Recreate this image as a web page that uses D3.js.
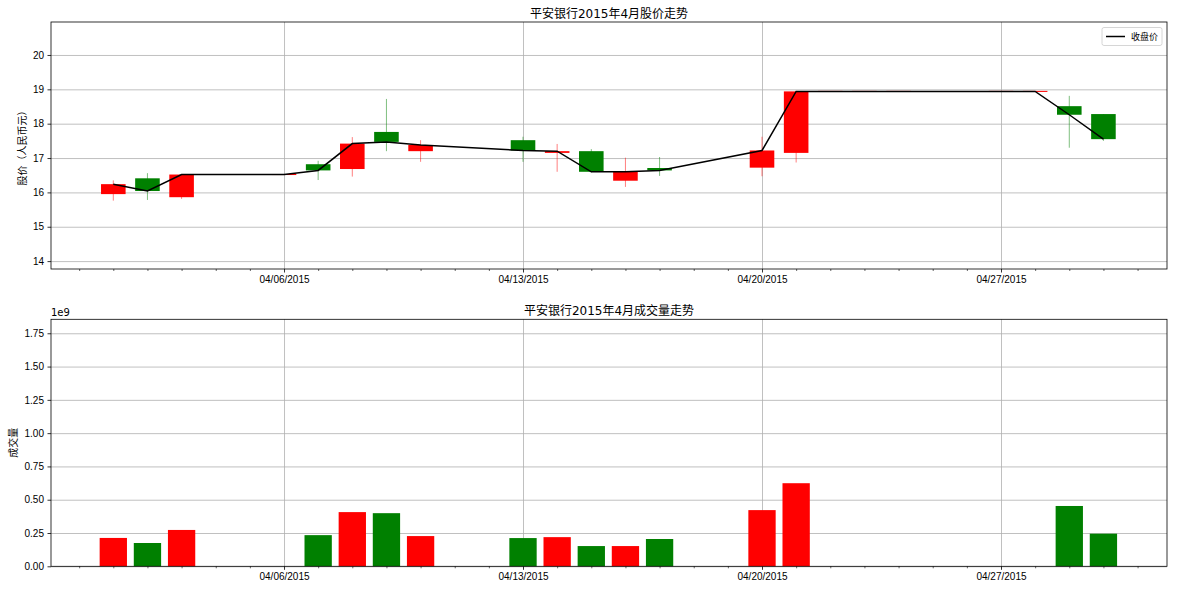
<!DOCTYPE html>
<html>
<head>
<meta charset="utf-8">
<script src="https://cdn.jsdelivr.net/npm/d3@7"></script>
<style>
  body { margin: 0; background: #fff; }
  svg { font-family: "DejaVu Sans", "Noto Sans CJK SC", sans-serif; }
  .tick text { font-size: 10px; fill: #000; }
  .grid line { stroke: #b0b0b0; stroke-width: 0.8; }
  .grid .domain { display: none; }
</style>
</head>
<body>
<svg></svg>
<script>
//Chart data (April 2015, daily)
let dates = ['2015-04-01', '2015-04-02', '2015-04-03', '2015-04-06', '2015-04-07', '2015-04-08',
             '2015-04-09', '2015-04-10', '2015-04-13', '2015-04-14', '2015-04-15', '2015-04-16',
             '2015-04-17', '2015-04-20', '2015-04-21', '2015-04-22', '2015-04-23', '2015-04-24',
             '2015-04-27', '2015-04-28', '2015-04-29', '2015-04-30'];
let openPrice  = [15.95, 16.41, 15.86, 16.52, 16.82, 16.68, 17.76, 17.20, 17.52, 17.15, 17.20, 16.34,
                  16.71, 16.72, 17.15, 18.94, 18.94, 18.94, 18.94, 18.94, 18.51, 18.28];
let highPrice  = [16.35, 16.56, 16.53, 16.52, 16.92, 17.61, 18.72, 17.52, 17.62, 17.41, 17.26, 17.01,
                  17.03, 17.62, 18.94, 18.94, 18.94, 18.94, 18.94, 18.94, 18.81, 18.28];
let lowPrice   = [15.76, 15.78, 15.81, 16.52, 16.36, 16.46, 17.20, 16.89, 16.89, 16.60, 16.58, 16.16,
                  16.48, 16.47, 16.87, 18.94, 18.94, 18.94, 18.94, 18.94, 17.30, 17.50];
let closePrice = [16.24, 16.04, 16.52, 16.52, 16.64, 17.42, 17.47, 17.38, 17.22, 17.20, 16.60, 16.60,
                  16.64, 17.22, 18.94, 18.94, 18.94, 18.94, 18.94, 18.94, 18.26, 17.55];
let volume     = [0.213e9, 0.175e9, 0.273e9, 0, 0.234e9, 0.407e9, 0.399e9, 0.227e9, 0.212e9, 0.219e9,
                  0.152e9, 0.152e9, 0.205e9, 0.422e9, 0.624e9, 0, 0, 0, 0, 0, 0.453e9, 0.245e9];

//Tick values
let priceTicks = [14, 15, 16, 17, 18, 19, 20];
let volumeTicks = [0, 0.25e9, 0.5e9, 0.75e9, 1e9, 1.25e9, 1.5e9, 1.75e9];

//Texts
let priceTitle = '平安银行2015年4月股价走势';
let volumeTitle = '平安银行2015年4月成交量走势';
let priceLabel = '股价（人民币元）';
let volumeLabel = '成交量';
let legendLabel = '收盘价';

let parseDate = d3.utcParse('%Y-%m-%d');
let dayFormat = d3.utcFormat('%m/%d/%Y');
let DAY = 24 * 3600 * 1000;

let data = dates.map((d, i) => ({
    date: parseDate(d),
    open: openPrice[i],
    high: highPrice[i],
    low: lowPrice[i],
    close: closePrice[i],
    volume: volume[i]
}));

//Canvas
let canvasDimension = { width: 1177, height: 590 };
let plotX = { left: 51, right: 1167 };
let pricePlot = { top: 22, bottom: 269 };
let volumePlot = { top: 319.3, bottom: 566.3 };

let colorUp = '#ff0000';
let colorDown = '#008000';

let svg = d3.select('svg');
let xScale, yPrice, yVolume;

function drawCanvas(){
    svg.attr('width', canvasDimension.width)
       .attr('height', canvasDimension.height);
}

function generateScale(){
    let first = data[0].date.getTime();
    xScale = d3.scaleUtc()
               .domain([new Date(first - 1.825 * DAY), new Date(first + 30.862 * DAY)])
               .range([plotX.left, plotX.right]);

    yPrice = d3.scaleLinear()
               .domain([13.77, 20.96])
               .range([pricePlot.bottom, pricePlot.top]);

    yVolume = d3.scaleLinear()
                .domain([0, 1.855e9])
                .range([volumePlot.bottom, volumePlot.top]);
}

//Gridlines, ticks and frame for one panel
function generateAxis(plot, yScale, yTicks, yFormat){
    let g = svg.append('g');
    let xMajor = d3.utcMonday.range(xScale.domain()[0], xScale.domain()[1]);
    let xMinor = d3.utcDay.range(xScale.domain()[0], xScale.domain()[1]);

    //grid
    g.append('g')
     .attr('class', 'grid')
     .attr('transform', 'translate(0,' + plot.bottom + ')')
     .call(d3.axisBottom(xScale).tickValues(xMajor).tickSize(-(plot.bottom - plot.top)).tickFormat(''));
    g.append('g')
     .attr('class', 'grid')
     .attr('transform', 'translate(' + plotX.left + ',0)')
     .call(d3.axisLeft(yScale).tickValues(yTicks).tickSize(-(plotX.right - plotX.left)).tickFormat(''));

    //minor x ticks
    let minor = g.append('g')
     .attr('transform', 'translate(0,' + plot.bottom + ')')
     .call(d3.axisBottom(xScale).tickValues(xMinor.filter(d => d.getUTCDay() != 1)).tickSize(2).tickFormat(''));
    minor.select('.domain').remove();
    minor.selectAll('line').attr('stroke', '#000').attr('stroke-width', 0.6);

    //major x ticks
    let xAxis = g.append('g')
     .attr('transform', 'translate(0,' + plot.bottom + ')')
     .call(d3.axisBottom(xScale).tickValues(xMajor).tickSize(3.5).tickPadding(3.5).tickFormat(dayFormat));
    xAxis.select('.domain').remove();
    xAxis.selectAll('line').attr('stroke-width', 0.8);

    let yAxis = g.append('g')
     .attr('transform', 'translate(' + plotX.left + ',0)')
     .call(d3.axisLeft(yScale).tickValues(yTicks).tickSize(3.5).tickPadding(3.5).tickFormat(yFormat));
    yAxis.select('.domain').remove();
    yAxis.selectAll('line').attr('stroke-width', 0.8);

    return g;
}

function drawFrame(plot){
    svg.append('rect')
       .attr('x', plotX.left)
       .attr('y', plot.top)
       .attr('width', plotX.right - plotX.left)
       .attr('height', plot.bottom - plot.top)
       .attr('fill', 'none')
       .attr('stroke', '#000')
       .attr('stroke-width', 0.8);
}

function drawCandles(){
    let bodyWidth = xScale(new Date(data[0].date.getTime() + 0.72 * DAY)) - xScale(data[0].date);
    let g = svg.append('g');

    //wicks
    g.selectAll('.wick')
     .data(data)
     .enter()
     .append('line')
     .attr('class', 'wick')
     .attr('x1', d => xScale(d.date))
     .attr('x2', d => xScale(d.date))
     .attr('y1', d => yPrice(d.high))
     .attr('y2', d => yPrice(d.low))
     .attr('stroke', d => d.close >= d.open ? colorUp : colorDown)
     .attr('stroke-opacity', 0.5)
     .attr('stroke-width', 1);

    //bodies (flat ones drawn as a thin line centred on the price)
    g.selectAll('.body')
     .data(data)
     .enter()
     .append('rect')
     .attr('class', 'body')
     .attr('x', d => xScale(d.date) - bodyWidth / 2)
     .attr('y', d => {
        let h = Math.abs(yPrice(d.open) - yPrice(d.close));
        return h < 1 ? yPrice(d.close) - 0.5 : yPrice(Math.max(d.open, d.close));
     })
     .attr('width', bodyWidth)
     .attr('height', d => Math.max(1, Math.abs(yPrice(d.open) - yPrice(d.close))))
     .attr('fill', d => d.close >= d.open ? colorUp : colorDown);

    //close line
    let line = d3.line()
                 .x(d => xScale(d.date))
                 .y(d => yPrice(d.close));
    g.append('path')
     .datum(data)
     .attr('d', line)
     .attr('fill', 'none')
     .attr('stroke', '#000')
     .attr('stroke-width', 1.5);
}

function drawVolume(){
    let barWidth = xScale(new Date(data[0].date.getTime() + 0.8 * DAY)) - xScale(data[0].date);
    svg.append('g')
       .selectAll('rect')
       .data(data.filter(d => d.volume > 0))
       .enter()
       .append('rect')
       .attr('x', d => xScale(d.date) - barWidth / 2)
       .attr('y', d => yVolume(d.volume))
       .attr('width', barWidth)
       .attr('height', d => yVolume(0) - yVolume(d.volume))
       .attr('fill', d => d.close >= d.open ? colorUp : colorDown);
}

function drawText(){
    let mid = (plotX.left + plotX.right) / 2;

    svg.append('text')
       .attr('x', mid).attr('y', 17.5)
       .attr('text-anchor', 'middle')
       .style('font-size', '12px')
       .text(priceTitle);

    svg.append('text')
       .attr('x', mid).attr('y', 314.5)
       .attr('text-anchor', 'middle')
       .style('font-size', '12px')
       .text(volumeTitle);

    svg.append('text')
       .attr('transform', 'translate(26,' + (pricePlot.top + pricePlot.bottom) / 2 + ') rotate(-90)')
       .attr('text-anchor', 'middle')
       .style('font-size', '10px')
       .text(priceLabel);

    svg.append('text')
       .attr('transform', 'translate(17,' + (volumePlot.top + volumePlot.bottom) / 2 + ') rotate(-90)')
       .attr('text-anchor', 'middle')
       .style('font-size', '10px')
       .text(volumeLabel);

    //offset text
    svg.append('text')
       .attr('x', plotX.left).attr('y', 316)
       .style('font-size', '10px')
       .text('1e9');

    //legend
    let legend = svg.append('g');
    legend.append('rect')
          .attr('x', 1102).attr('y', 27.5)
          .attr('width', 60).attr('height', 18)
          .attr('rx', 2)
          .attr('fill', '#fff')
          .attr('fill-opacity', 0.8)
          .attr('stroke', '#cccccc')
          .attr('stroke-width', 0.8);
    legend.append('line')
          .attr('x1', 1106).attr('x2', 1125)
          .attr('y1', 36.5).attr('y2', 36.5)
          .attr('stroke', '#000')
          .attr('stroke-width', 1.5);
    legend.append('text')
          .attr('x', 1131).attr('y', 40)
          .style('font-size', '9px')
          .text(legendLabel);
}

//Main
drawCanvas();
generateScale();
generateAxis(pricePlot, yPrice, priceTicks, d3.format('d'));
generateAxis(volumePlot, yVolume, volumeTicks, d => (d / 1e9).toFixed(2));
drawCandles();
drawVolume();
drawFrame(pricePlot);
drawFrame(volumePlot);
drawText();
</script>
</body>
</html>
